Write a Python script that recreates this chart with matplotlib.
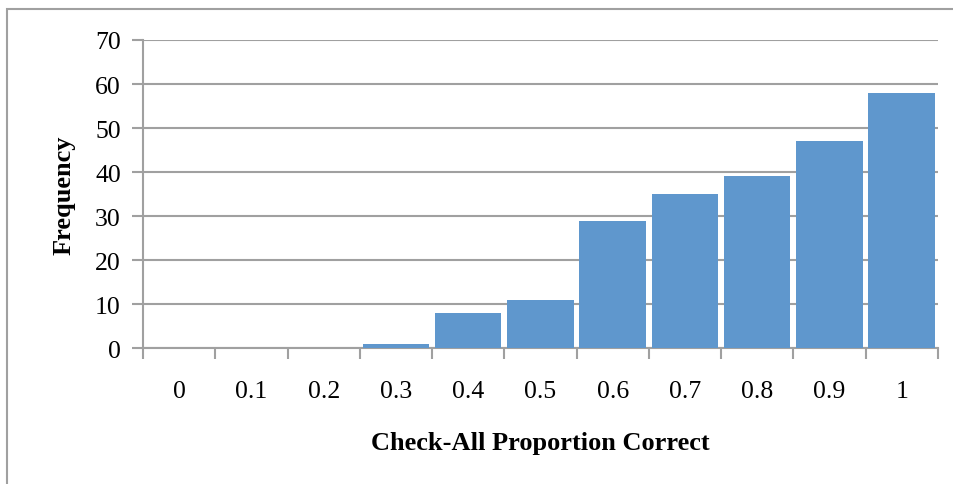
import numpy as np
import matplotlib.pyplot as plt
from matplotlib.patches import Rectangle

# Données
categories = ['0', '0.1', '0.2', '0.3', '0.4', '0.5', '0.6', '0.7', '0.8', '0.9', '1']
frequency = [0, 0, 0, 1, 8, 11, 29, 35, 39, 47, 58]
yticks = [0, 10, 20, 30, 40, 50, 60, 70]

plt.rcParams['font.family'] = ['Liberation Serif', 'DejaVu Serif']
grey = '#a0a0a0'

fig = plt.figure(figsize=(9.54, 4.85), dpi=100)
ax = fig.add_axes([0.150, 0.280, 0.833, 0.6355])

x = np.arange(len(categories))
ax.bar(x, frequency, width=0.92, color='#5f97cd', zorder=3)

ax.set_xlim(-0.5, len(categories) - 0.5)
ax.set_ylim(0, 70)
ax.set_yticks(yticks)
ax.yaxis.grid(True, color=grey, linewidth=1.5, zorder=0)

# ticks x aux limites des catégories
ax.set_xticks(np.arange(len(categories) + 1) - 0.5)
ax.set_xticklabels([])
ax.set_xticks(x, minor=True)
ax.set_xticklabels(categories, minor=True, fontsize=18.5)
ax.tick_params(axis='x', which='minor', length=0, pad=23)
ax.tick_params(axis='x', which='major', length=8, width=1.5, color=grey, direction='out')
ax.tick_params(axis='y', length=8, width=1.5, color=grey, labelsize=18.5, pad=8)

for s in ['top', 'right']:
    ax.spines[s].set_visible(False)
for s in ['left', 'bottom']:
    ax.spines[s].set_color(grey)
    ax.spines[s].set_linewidth(1.5)

ax.set_ylabel('Frequency', fontsize=19, fontweight='bold', labelpad=14)
ax.set_xlabel('Check-All Proportion Correct', fontsize=19, fontweight='bold', labelpad=21)

# cadre du graphique
fig.patches.append(Rectangle((7 / 954, -0.5), 2, 0.5 + 1 - 10 / 485, transform=fig.transFigure,
                             fill=False, edgecolor=grey, linewidth=1.5))

fig.savefig('out.png', dpi=100)
